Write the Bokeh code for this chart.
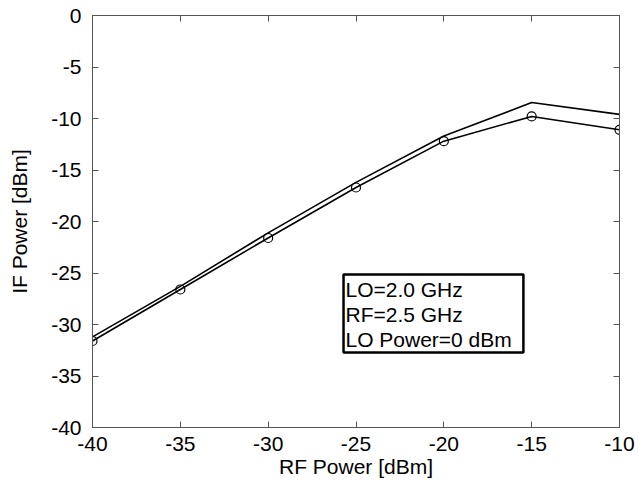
from bokeh.plotting import figure
from bokeh.models import LinearAxis, Label, Range1d, FixedTicker, BoxAnnotation
from bokeh.embed import file_html
from bokeh.resources import INLINE

rf_power = [-40, -35, -30, -25, -20, -15, -10]
if_measured = [-31.6, -26.6, -21.6, -16.7, -12.2, -9.8, -11.1]
if_simulated = [-31.2, -26.3, -21.1, -16.2, -11.7, -8.45, -9.6]
x_ticks = [-40, -35, -30, -25, -20, -15, -10]
y_ticks = [-40, -35, -30, -25, -20, -15, -10, -5, 0]
note = "LO=2.0 GHz\nRF=2.5 GHz\nLO Power=0 dBm"

FONT = "Liberation Sans"
FRAME = "#555555"

p = figure(width=639, height=489, output_backend="svg", toolbar_location=None,
           x_range=Range1d(-40, -10), y_range=Range1d(-40, 0),
           min_border_left=92, min_border_right=20, min_border_top=15, min_border_bottom=62,
           x_axis_label="RF Power [dBm]", y_axis_label="IF Power [dBm]")
p.xgrid.visible = False
p.ygrid.visible = False
p.outline_line_color = FRAME
p.outline_line_width = 1
p.background_fill_color = "white"
p.border_fill_color = "white"

for ax in p.xaxis + p.yaxis:
    ax.axis_line_color = FRAME
    ax.major_tick_line_color = FRAME
    ax.major_tick_in = 6
    ax.major_tick_out = 0
    ax.minor_tick_line_color = None
    ax.major_label_text_font = FONT
    ax.major_label_text_font_size = "21px"
    ax.major_label_text_color = "black"
    ax.axis_label_text_font = FONT
    ax.axis_label_text_font_size = "21px"
    ax.axis_label_text_font_style = "normal"
    ax.axis_label_text_color = "black"
p.xaxis.ticker = FixedTicker(ticks=x_ticks)
p.yaxis.ticker = FixedTicker(ticks=y_ticks)
p.xaxis.major_label_overrides = {t: str(t) for t in x_ticks}
p.yaxis.major_label_overrides = {t: str(t) for t in y_ticks}
p.xaxis.major_label_standoff = 9
p.xaxis.axis_label_standoff = 1
p.yaxis.major_label_standoff = 11
p.yaxis.axis_label_standoff = 17

top = LinearAxis(ticker=FixedTicker(ticks=x_ticks))
right = LinearAxis(ticker=FixedTicker(ticks=y_ticks))
for ax in (top, right):
    ax.axis_line_color = FRAME
    ax.major_tick_line_color = FRAME
    ax.major_tick_in = 6
    ax.major_tick_out = 0
    ax.minor_tick_line_color = None
    ax.major_label_text_color = None
    ax.major_label_standoff = 0
p.add_layout(top, "above")
p.add_layout(right, "right")

p.line(rf_power, if_simulated, line_color="black", line_width=1.6)
p.line(rf_power, if_measured, line_color="black", line_width=1.6)
p.scatter(rf_power, if_measured, marker="circle", size=9, fill_color=None,
          line_color="black", line_width=1.2)

box = BoxAnnotation(left=-25.71, right=-15.47, top=-25.15, bottom=-32.72,
                    fill_color="white", fill_alpha=1.0,
                    line_color="black", line_alpha=1.0, line_width=2.5)
p.add_layout(box)

lab = Label(x=-25.6, y=-25.45, text=note, text_baseline="top", text_align="left",
            text_font=FONT, text_font_size="21px", text_color="black",
            text_line_height=1.1)
p.add_layout(lab)

open("out.html", "w").write(file_html(p, INLINE))
